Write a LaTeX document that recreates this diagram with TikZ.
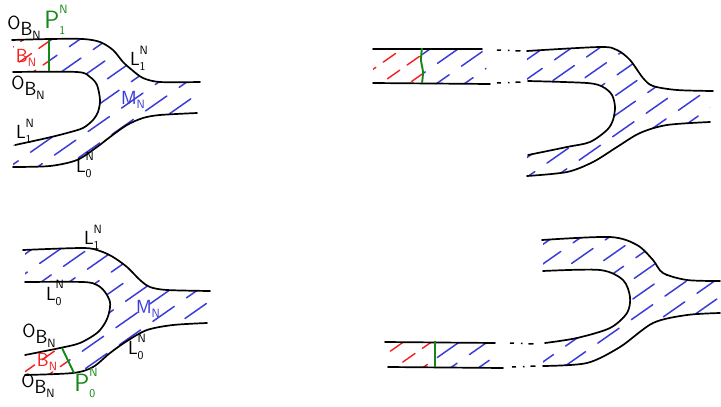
\documentclass[tikz,border=0pt]{standalone}
\usepackage{xcolor}
\definecolor{hblue}{RGB}{60,60,215}
\definecolor{hred}{RGB}{245,30,30}
\definecolor{cutgreen}{RGB}{20,135,20}

% outlines, in pixel coordinates
\newcommand\topA{plot[smooth] coordinates {(12,40) (50,39) (83,39) (100,42) (113,50) (123,62) (132,70) (143,78) (160,82) (200,82)}}
\newcommand\innerA{plot[smooth] coordinates {(13,72) (77,72) (90,77) (97,85) (100,100) (98,112) (93,120) (83,128) (67,133) (47,138) (15,145)}}
\newcommand\botA{plot[smooth] coordinates {(13,167) (50,166) (77,160) (97,147) (110,137) (127,125) (143,118) (160,115) (197,113)}}
\newcommand\topB{plot[smooth] coordinates {(527,51) (600,47) (617,50) (630,60) (643,78) (653,86) (677,90) (713,91)}}
\newcommand\innerB{plot[smooth] coordinates {(528,81) (587,83) (603,87) (612,95) (615,107) (613,120) (607,130) (590,142) (567,147) (528,155)}}
\newcommand\botB{plot[smooth] coordinates {(527,176) (567,172) (593,162) (617,147) (640,133) (667,125) (710,122)}}
\newcommand\topC{plot[smooth] coordinates {(23,250) (83,248) (100,251) (113,257) (127,267) (140,280) (150,287) (167,290) (210,291)}}
\newcommand\innerC{plot[smooth] coordinates {(25,282) (83,282) (97,285) (105,292) (110,302) (109,313) (105,323) (97,333) (80,343) (60,348) (25,355)}}
\newcommand\botC{plot[smooth] coordinates {(25,375) (73,373) (93,367) (110,353) (127,341) (147,330) (173,325) (207,323)}}
\newcommand\topD{plot[smooth] coordinates {(542,240) (610,237) (637,245) (653,260) (663,273) (687,280) (720,281)}}
\newcommand\innerD{plot[smooth] coordinates {(543,271) (600,270) (623,280) (630,297) (627,313) (610,328) (577,338) (545,343)}}
\newcommand\botD{plot[smooth] coordinates {(543,366) (587,363) (620,347) (653,323) (687,315) (720,313)}}

\newcommand\hatchfill[1]{\foreach \k in {-660,-632,...,720} {
  \pgfmathsetmacro\ph{mod(abs(\k)*13,41)}
  \draw[#1,dash phase=\ph pt] (\k,420) -- ++(600,-420);}}

% hand-written indices
\newcommand\lo[1]{\raisebox{-0.25em}{\fontsize{12}{12}\selectfont #1}}
\newcommand\hi[1]{\raisebox{0.6em}{\fontsize{12}{12}\selectfont #1}}
\newcommand\lohi[2]{\rlap{\lo{#1}}\hi{#2}}
\newcommand\obn{O\raisebox{-0.3em}{B\lo{N}}}

\begin{document}
\begin{tikzpicture}[x=1pt,y=-1pt,
  outline/.style={line width=1.7pt,line cap=round},
  bluehatch/.style={hblue,line width=1.5pt,line cap=round,dash pattern=on 26pt off 15pt},
  redhatch/.style={hred,line width=1.4pt,line cap=round,dash pattern=on 15pt off 9pt},
  cut/.style={cutgreen,line width=1.9pt},
  dashdot/.style={line width=1.5pt,dash pattern=on 4pt off 7pt on 1.5pt off 6pt on 5pt off 40pt},
  lab/.style={inner sep=0pt,font=\sffamily\fontsize{19}{20}\selectfont}]
\useasboundingbox (0,0) rectangle (721,407);

% ---- top left
\begin{scope}[even odd rule]
  \clip \topA -- (200,420) -- (12,420) -- cycle;
  \clip \botA -- (197,0) -- (13,0) -- cycle;
  \clip (0,0) rectangle (721,420) \innerA -- (0,145) -- (0,72) -- cycle;
  \begin{scope}
    \clip (0,0) rectangle (49,100);
    \hatchfill{redhatch}
  \end{scope}
  \begin{scope}
    \clip (0,0) rectangle (721,420) (0,0) rectangle (49,100);
    \hatchfill{bluehatch}
  \end{scope}
\end{scope}
\draw[outline] \topA;
\draw[outline] \innerA;
\draw[outline] \botA;
\draw[cut] (49,40) -- (49,71);
\node[lab] (obTop) at (24,28) {\obn};
\node[lab,cutgreen,font=\sffamily\fontsize{25}{26}\selectfont] (pOne) at (56,20) {P\lohi{1}{N}};
\node[lab,hred] (bTop) at (26,58) {B\lo{N}};
\node[lab] (obMid) at (28,88) {\obn};
\node[lab] (lOneR) at (139,58) {L\lohi{1}{N}};
\node[lab,hblue] (mTop) at (133,100) {M\lo{N}};
\node[lab] (lOneL) at (25,131) {L\lohi{1}{N}};
\node[lab] (lZeroA) at (85,165) {L\lohi{0}{N}};

% ---- top right
\begin{scope}
  \clip (373,49) -- (482,49) -- (490,84) -- (373,84) -- cycle;
  \begin{scope}
    \clip (0,0) rectangle (422,420);
    \hatchfill{redhatch}
  \end{scope}
  \begin{scope}
    \clip (422,0) rectangle (721,420);
    \hatchfill{bluehatch}
  \end{scope}
\end{scope}
\begin{scope}[even odd rule]
  \clip \topB -- (713,420) -- (527,420) -- cycle;
  \clip \botB -- (710,0) -- (527,0) -- cycle;
  \clip (0,0) rectangle (721,420) \innerB -- (500,155) -- (500,81) -- cycle;
  \hatchfill{bluehatch}
\end{scope}
\draw[outline] (373,49) -- (482,49);
\draw[outline] (373,83) -- (490,84);
\draw[dashdot] (497,50) -- (522,51);
\draw[dashdot] (497,83) -- (522,82);
\draw[outline] \topB;
\draw[outline] \innerB;
\draw[outline] \botB;
\draw[cut] plot[smooth] coordinates {(422,48) (421,60) (423,72) (422,83)};

% ---- bottom left
\begin{scope}[even odd rule]
  \clip \topC -- (210,420) -- (23,420) -- cycle;
  \clip \botC -- (207,0) -- (25,0) -- cycle;
  \clip (0,0) rectangle (721,420) \innerC -- (0,355) -- (0,282) -- cycle;
  \begin{scope}
    \clip (0,320) -- (48.6,320) -- (87,400) -- (0,400) -- cycle;
    \hatchfill{redhatch}
  \end{scope}
  \begin{scope}
    \clip (0,0) rectangle (721,420) (0,320) -- (48.6,320) -- (87,400) -- (0,400) -- cycle;
    \hatchfill{bluehatch}
  \end{scope}
\end{scope}
\draw[outline] \topC;
\draw[outline] \innerC;
\draw[outline] \botC;
\draw[cut] (62,348) -- (74,373);
\node[lab] (lOneC) at (93,237) {L\lohi{1}{N}};
\node[lab] (lZeroIn) at (55,293) {L\lohi{0}{N}};
\node[lab,hblue] (mBot) at (148,309) {M\lo{N}};
\node[lab] (obUp) at (39,336) {\obn};
\node[lab,hred] (bBot) at (47,362) {B\lo{N}};
\node[lab] (obLow) at (38,386) {\obn};
\node[lab,cutgreen,font=\sffamily\fontsize{25}{26}\selectfont] (pZero) at (86,383) {P\lohi{0}{N}};
\node[lab] (lZeroR) at (137,347) {L\lohi{0}{N}};

% ---- bottom right
\begin{scope}
  \clip (385,342) -- (495,343) -- (503,368) -- (388,367) -- cycle;
  \begin{scope}
    \clip (0,0) rectangle (435,420);
    \hatchfill{redhatch}
  \end{scope}
  \begin{scope}
    \clip (435,0) rectangle (721,420);
    \hatchfill{bluehatch}
  \end{scope}
\end{scope}
\begin{scope}[even odd rule]
  \clip \topD -- (720,420) -- (542,420) -- cycle;
  \clip \botD -- (720,0) -- (543,0) -- cycle;
  \clip (0,0) rectangle (721,420) \innerD -- (520,343) -- (520,271) -- cycle;
  \hatchfill{bluehatch}
\end{scope}
\draw[outline] (385,342) -- (495,343);
\draw[outline] (388,367) -- (503,368);
\draw[dashdot] (510,343) -- (535,344);
\draw[dashdot] (512,367) -- (537,366);
\draw[outline] \topD;
\draw[outline] \innerD;
\draw[outline] \botD;
\draw[cut] (435,341) -- (435,367);
\end{tikzpicture}
\end{document}
